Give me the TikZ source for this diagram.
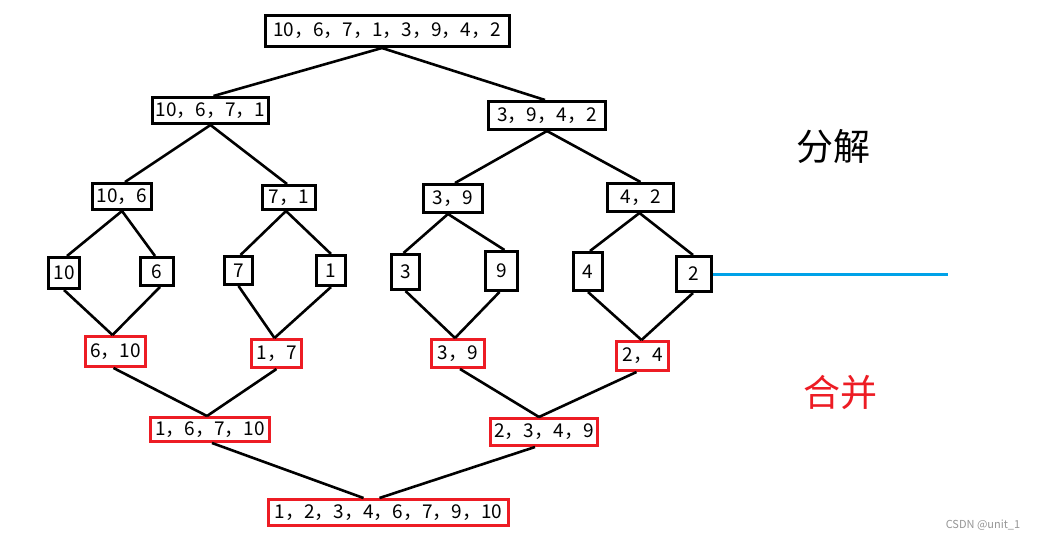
\documentclass[tikz,border=0pt]{standalone}
\usepackage{fontspec}
\setmainfont{Noto Sans CJK SC}
\definecolor{paintred}{RGB}{237,28,36}
\definecolor{paintblue}{RGB}{0,162,232}
\definecolor{wmgray}{RGB}{150,150,150}
\begin{document}
\begin{tikzpicture}[x=1pt,y=-1pt,
  box/.style={draw=black,line width=3pt,inner sep=0pt,font=\fontsize{19}{21}\selectfont},
  mbox/.style={box,draw=paintred},
  conn/.style={line width=2.6pt,black},
  bluel/.style={line width=3pt,paintblue},
]
\fill[white] (0,0) rectangle (1037,541);
\useasboundingbox (0,0) rectangle (1037,541);
% split tree
\node[box,minimum width=244pt,minimum height=31pt] (top) at (387,31) {10，6，7，1，3，9，4，2};
\node[box,minimum width=116pt,minimum height=26pt] (L) at (210.5,110.5) {10，6，7，1};
\node[box,minimum width=117pt,minimum height=28pt] (R) at (547,115.5) {3，9，4，2};
\node[box,minimum width=59pt,minimum height=26pt] (a1) at (122,196.5) {10，6};
\node[box,minimum width=53pt,minimum height=24pt] (a2) at (289,197.5) {7，1};
\node[box,minimum width=59pt,minimum height=28pt] (a3) at (453,198.5) {3，9};
\node[box,minimum width=66pt,minimum height=28pt] (a4) at (640.5,197.5) {4，2};
\node[box,minimum width=31pt,minimum height=31pt] (l1) at (64,273) {10};
\node[box,minimum width=33pt,minimum height=28pt] (l2) at (157,271.5) {6};
\node[box,minimum width=28pt,minimum height=28pt] (l3) at (238.5,270.5) {7};
\node[box,minimum width=29pt,minimum height=30pt] (l4) at (331,270.5) {1};
\node[box,minimum width=28pt,minimum height=35pt] (l5) at (405.5,272) {3};
\node[box,minimum width=32pt,minimum height=39pt] (l6) at (501.5,271) {9};
\node[box,minimum width=29pt,minimum height=38pt] (l7) at (588,271.5) {4};
\node[box,minimum width=35pt,minimum height=35pt] (l8) at (694,274) {2};
% merge tree
\node[mbox,minimum width=60pt,minimum height=30pt] (m1) at (115.5,351.5) {6，10};
\node[mbox,minimum width=50pt,minimum height=28pt] (m2) at (276.5,353.5) {1，7};
\node[mbox,minimum width=53pt,minimum height=28pt] (m3) at (458,353.5) {3，9};
\node[mbox,minimum width=52pt,minimum height=29pt] (m4) at (642.5,356) {2，4};
\node[mbox,minimum width=119pt,minimum height=24pt] (n1) at (210,429.5) {1，6，7，10};
\node[mbox,minimum width=107pt,minimum height=27pt] (n2) at (544,432) {2，3，4，9};
\node[mbox,minimum width=240pt,minimum height=26pt] (fin) at (388.5,512.5) {1，2，3，4，6，7，9，10};
% labels
\node[font=\fontsize{37}{40}\selectfont,inner sep=0pt] (split) at (833,146) {分解};
\node[font=\fontsize{37}{40}\selectfont,inner sep=0pt,text=paintred] (merge) at (840,393) {合并};
\node[font=\fontsize{11}{12}\selectfont,inner sep=0pt,text=wmgray] (wm) at (983,525) {CSDN @unit\_1};
% blue line
\coordinate (bend) at (948,274);
\draw[bluel] (l8.east) -- (bend);
% connectors (split)
\draw[conn] ([xshift=-5pt]top.south) -- ([xshift=3pt]L.north);
\draw[conn] ([xshift=-5pt]top.south) -- ([xshift=-2pt]R.north);
\draw[conn] (L.south) -- ([xshift=3pt]a1.north);
\draw[conn] (L.south) -- ([xshift=-2pt]a2.north);
\draw[conn] (R.south) -- ([xshift=2pt]a3.north);
\draw[conn] (R.south) -- (a4.north);
\draw[conn] (a1.south) -- ([xshift=3pt]l1.north);
\draw[conn] (a1.south) -- ([xshift=-2pt]l2.north);
\draw[conn] ([xshift=-3pt]a2.south) -- ([xshift=2pt]l3.north);
\draw[conn] ([xshift=-3pt]a2.south) -- (l4.north);
\draw[conn] ([xshift=-5pt]a3.south) -- ([xshift=-2pt]l5.north);
\draw[conn] ([xshift=-5pt]a3.south) -- ([xshift=3pt]l6.north);
\draw[conn] ([xshift=-1pt]a4.south) -- ([xshift=2pt]l7.north);
\draw[conn] ([xshift=-1pt]a4.south) -- ([xshift=-1pt]l8.north);
% connectors (merge)
\draw[conn] (l1.south) -- ([xshift=-3pt]m1.north);
\draw[conn] ([xshift=3pt]l2.south) -- ([xshift=-3pt]m1.north);
\draw[conn] (l3.south) -- ([xshift=-2pt]m2.north);
\draw[conn] (l4.south) -- ([xshift=-2pt]m2.north);
\draw[conn] (l5.south) -- ([xshift=-3pt]m3.north);
\draw[conn] ([xshift=-2pt]l6.south) -- ([xshift=-3pt]m3.north);
\draw[conn] (l7.south) -- ([xshift=-1pt]m4.north);
\draw[conn] ([xshift=-1pt]l8.south) -- ([xshift=-1pt]m4.north);
\draw[conn] ([xshift=-2pt]m1.south) -- ([xshift=-3pt]n1.north);
\draw[conn] (m2.south) -- ([xshift=-3pt]n1.north);
\draw[conn] ([xshift=2pt]m3.south) -- ([xshift=-5pt]n2.north);
\draw[conn] ([xshift=-6pt]m4.south) -- ([xshift=-5pt]n2.north);
\draw[conn] ([xshift=2pt]n1.south) -- ([xshift=-25pt]fin.north);
\draw[conn] ([xshift=-9pt]n2.south) -- ([xshift=-9pt]fin.north);
\end{tikzpicture}
\end{document}
